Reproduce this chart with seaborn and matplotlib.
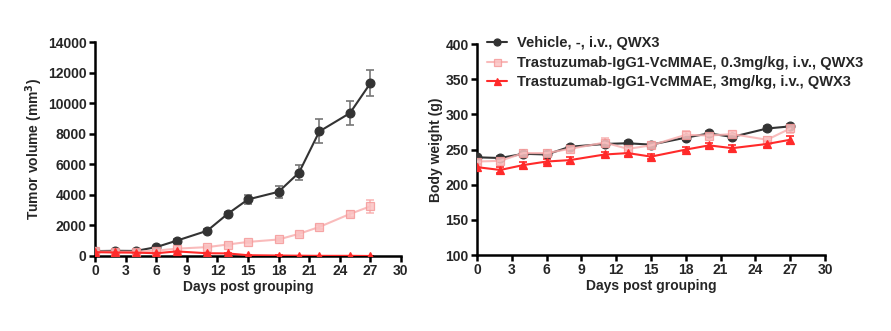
import numpy as np
import pandas as pd
import matplotlib
matplotlib.use("Agg")
import matplotlib.pyplot as plt
import seaborn as sns

days = [0, 2, 4, 6, 8, 11, 13, 15, 18, 20, 22, 25, 27]

groups = [
    "Vehicle, -, i.v., QWX3",
    "Trastuzumab-IgG1-VcMMAE, 0.3mg/kg, i.v., QWX3",
    "Trastuzumab-IgG1-VcMMAE, 3mg/kg, i.v., QWX3",
]

# Tumor volume (mm^3), mean and SEM
tv_vehicle = [320, 340, 330, 580, 1000, 1650, 2750, 3700, 4200, 5450, 8150, 9350, 11300]
tv_vehicle_err = [40, 40, 40, 60, 90, 110, 150, 300, 400, 480, 780, 800, 850]
tv_low = [300, 280, 280, 350, 480, 580, 750, 920, 1080, 1450, 1900, 2750, 3250]
tv_low_err = [30, 30, 30, 40, 50, 60, 80, 90, 100, 120, 150, 200, 420]
tv_high = [250, 230, 220, 180, 300, 180, 170, 50, 30, 20, 10, 10, 0]
tv_high_err = [30, 30, 25, 25, 40, 30, 30, 10, 5, 5, 3, 3, 0]

# Body weight (g), mean and SEM
bw_vehicle = [239, 238, 244, 243, 254, 258, 259, 257, 267, 273, 268, 280, 283]
bw_vehicle_err = [3, 3, 3, 3, 3, 3, 3, 3, 3, 3, 3, 3, 3]
bw_low = [233, 234, 245, 245, 251, 260, 251, 256, 271, 270, 272, 264, 280]
bw_low_err = [4, 5, 5, 5, 5, 7, 5, 5, 5, 5, 5, 4, 6]
bw_high = [225, 221, 228, 233, 235, 243, 245, 240, 250, 256, 252, 258, 264]
bw_high_err = [4, 4, 4, 4, 4, 4, 4, 4, 4, 4, 4, 4, 5]

colors = ["#333333", "#f9b0b0", "#ff2a2a"]
err_colors = ["#777777", "#f8a8a8", "#ff2a2a"]
pink_face = "#fbc3c3"
pink_edge = "#f59a9a"
markers = ["o", "s", "^"]

sns.set_theme(style="ticks")
plt.rcParams["font.family"] = ["Liberation Sans", "DejaVu Sans"]
plt.rcParams["font.weight"] = "bold"
plt.rcParams["axes.labelweight"] = "bold"

fig = plt.figure(figsize=(8.91, 3.31), dpi=100)
ax1 = fig.add_axes([0.1066, 0.2266, 0.3434, 0.6465])
ax2 = fig.add_axes([0.5354, 0.2296, 0.3906, 0.637])


def long_frame(series):
    rows = []
    for g, vals in zip(groups, series):
        for d, v in zip(days, vals):
            rows.append({"day": d, "value": v, "group": g})
    return pd.DataFrame(rows)


def style_line(line):
    c = matplotlib.colors.to_hex(line.get_color())
    if c == colors[1]:
        line.set_markerfacecolor(pink_face)
        line.set_markeredgecolor(pink_edge)
        line.set_alpha(0.85)
    else:
        line.set_markeredgecolor(c)
    line.set_markeredgewidth(0.9)


def draw(ax, means, errs):
    df = long_frame(means)
    for i, g in enumerate(groups):
        alpha = 0.8 if i == 1 else 1.0
        ax.errorbar(days, means[i], yerr=errs[i], fmt="none",
                    ecolor=err_colors[i], elinewidth=1.2, capsize=3,
                    capthick=1.2, alpha=alpha, zorder=2)
    n_before = len(ax.get_lines())
    sns.lineplot(data=df, x="day", y="value", hue="group", style="group",
                 hue_order=groups, style_order=groups,
                 palette=colors, markers=markers, dashes=False,
                 markersize=6.3, linewidth=1.5,
                 ax=ax, legend=True, zorder=3)
    for line in ax.get_lines()[n_before:]:
        style_line(line)
    ax.set_xlim(0, 30)
    ax.set_xticks(range(0, 31, 3))
    for s in ["top", "right"]:
        ax.spines[s].set_visible(False)
    for s in ["left", "bottom"]:
        ax.spines[s].set_linewidth(1.8)
        ax.spines[s].set_color("black")
    ax.tick_params(axis="both", width=1.8, length=4, labelsize=10,
                   color="black", pad=2)
    for lab in ax.get_xticklabels() + ax.get_yticklabels():
        lab.set_fontweight("bold")
    ax.set_xlabel("Days post grouping", fontsize=10, fontweight="bold", labelpad=1)


draw(ax1, [tv_vehicle, tv_low, tv_high], [tv_vehicle_err, tv_low_err, tv_high_err])
draw(ax2, [bw_vehicle, bw_low, bw_high], [bw_vehicle_err, bw_low_err, bw_high_err])

ax1.set_ylim(0, 14000)
ax1.set_yticks(range(0, 14001, 2000))
ax1.set_ylabel("Tumor volume (mm$^\\mathbf{3}$)", fontsize=10, fontweight="bold", labelpad=2)
ax1.get_legend().remove()

ax2.set_ylim(100, 400)
ax2.set_yticks(range(100, 401, 50))
ax2.set_ylabel("Body weight (g)", fontsize=10, fontweight="bold", labelpad=2)
leg = ax2.legend(loc="upper left", bbox_to_anchor=(0.012, 1.065), frameon=False,
                 fontsize=10.5, handlelength=1.4, handletextpad=0.65,
                 labelspacing=0.38, borderaxespad=0, markerscale=0.8)
for t in leg.get_texts():
    t.set_fontweight("bold")
for h in leg.legend_handles:
    style_line(h)

fig.savefig("out.png", dpi=100)
